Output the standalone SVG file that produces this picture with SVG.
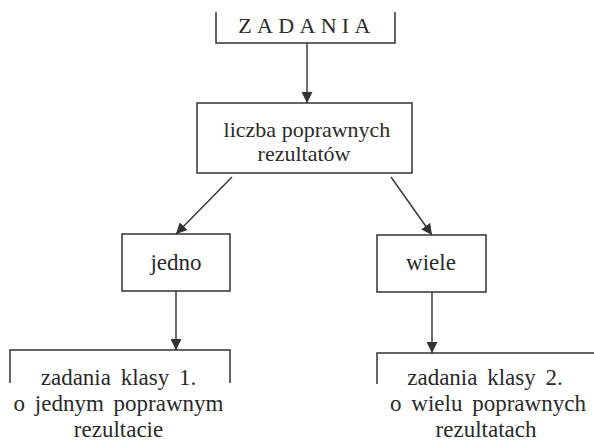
<svg xmlns="http://www.w3.org/2000/svg" width="594" height="443" viewBox="0 0 594 443">
<style>
.b{fill:none;stroke:#333;stroke-width:1.5}
.c{fill:none;stroke:#333;stroke-width:1.4}
.t{font-family:'Liberation Serif','DejaVu Serif',serif;fill:#2a2a2a;text-anchor:middle}
.m{font-size:22px}
.s{font-size:23px}
.l{font-size:23px;word-spacing:4px}
</style>
<defs>
<marker id="a" viewBox="0 0 10 10" refX="10" refY="5" markerWidth="11" markerHeight="11" markerUnits="userSpaceOnUse" orient="auto">
<path d="M0,0 L10,5 L0,10 z" fill="#333"/>
</marker>
</defs>
<rect width="594" height="443" fill="#fff"/>
<g id="zadania">
<path class="b" d="M216,12 V43 H395 V12"/>
<text class="t" x="307" y="33" font-size="22" letter-spacing="5.3">ZADANIA</text>
</g>
<g id="liczba">
<rect class="b" x="197" y="103" width="215" height="70"/>
<text class="t m" x="307" y="137">liczba poprawnych</text>
<text class="t m" x="304" y="161">rezultatów</text>
</g>
<g id="jedno">
<rect class="b" x="122" y="234" width="108" height="57"/>
<text class="t s" x="176" y="270">jedno</text>
</g>
<g id="wiele">
<rect class="b" x="377" y="235" width="109" height="57"/>
<text class="t s" x="431" y="270">wiele</text>
</g>
<g id="klasa1">
<path class="b" d="M10,383 V350 H230 V383"/>
<text class="t l" x="118.5" y="385">zadania klasy 1.</text>
<text class="t l" x="118.5" y="411">o jednym poprawnym</text>
<text class="t l" x="118.5" y="437">rezultacie</text>
</g>
<g id="klasa2">
<path class="b" d="M377,384 V353 H594"/>
<text class="t l" x="485" y="385">zadania klasy 2.</text>
<text class="t l" x="488" y="411">o wielu poprawnych</text>
<text class="t l" x="486" y="437">rezultatach</text>
</g>
<g id="connectors">
<line class="c" x1="307" y1="43" x2="307" y2="103" marker-end="url(#a)"/>
<line class="c" x1="232" y1="177" x2="176" y2="234" marker-end="url(#a)"/>
<line class="c" x1="391" y1="177" x2="432" y2="235" marker-end="url(#a)"/>
<line class="c" x1="176" y1="291" x2="176" y2="350" marker-end="url(#a)"/>
<line class="c" x1="432" y1="292" x2="432" y2="353" marker-end="url(#a)"/>
</g>
</svg>
